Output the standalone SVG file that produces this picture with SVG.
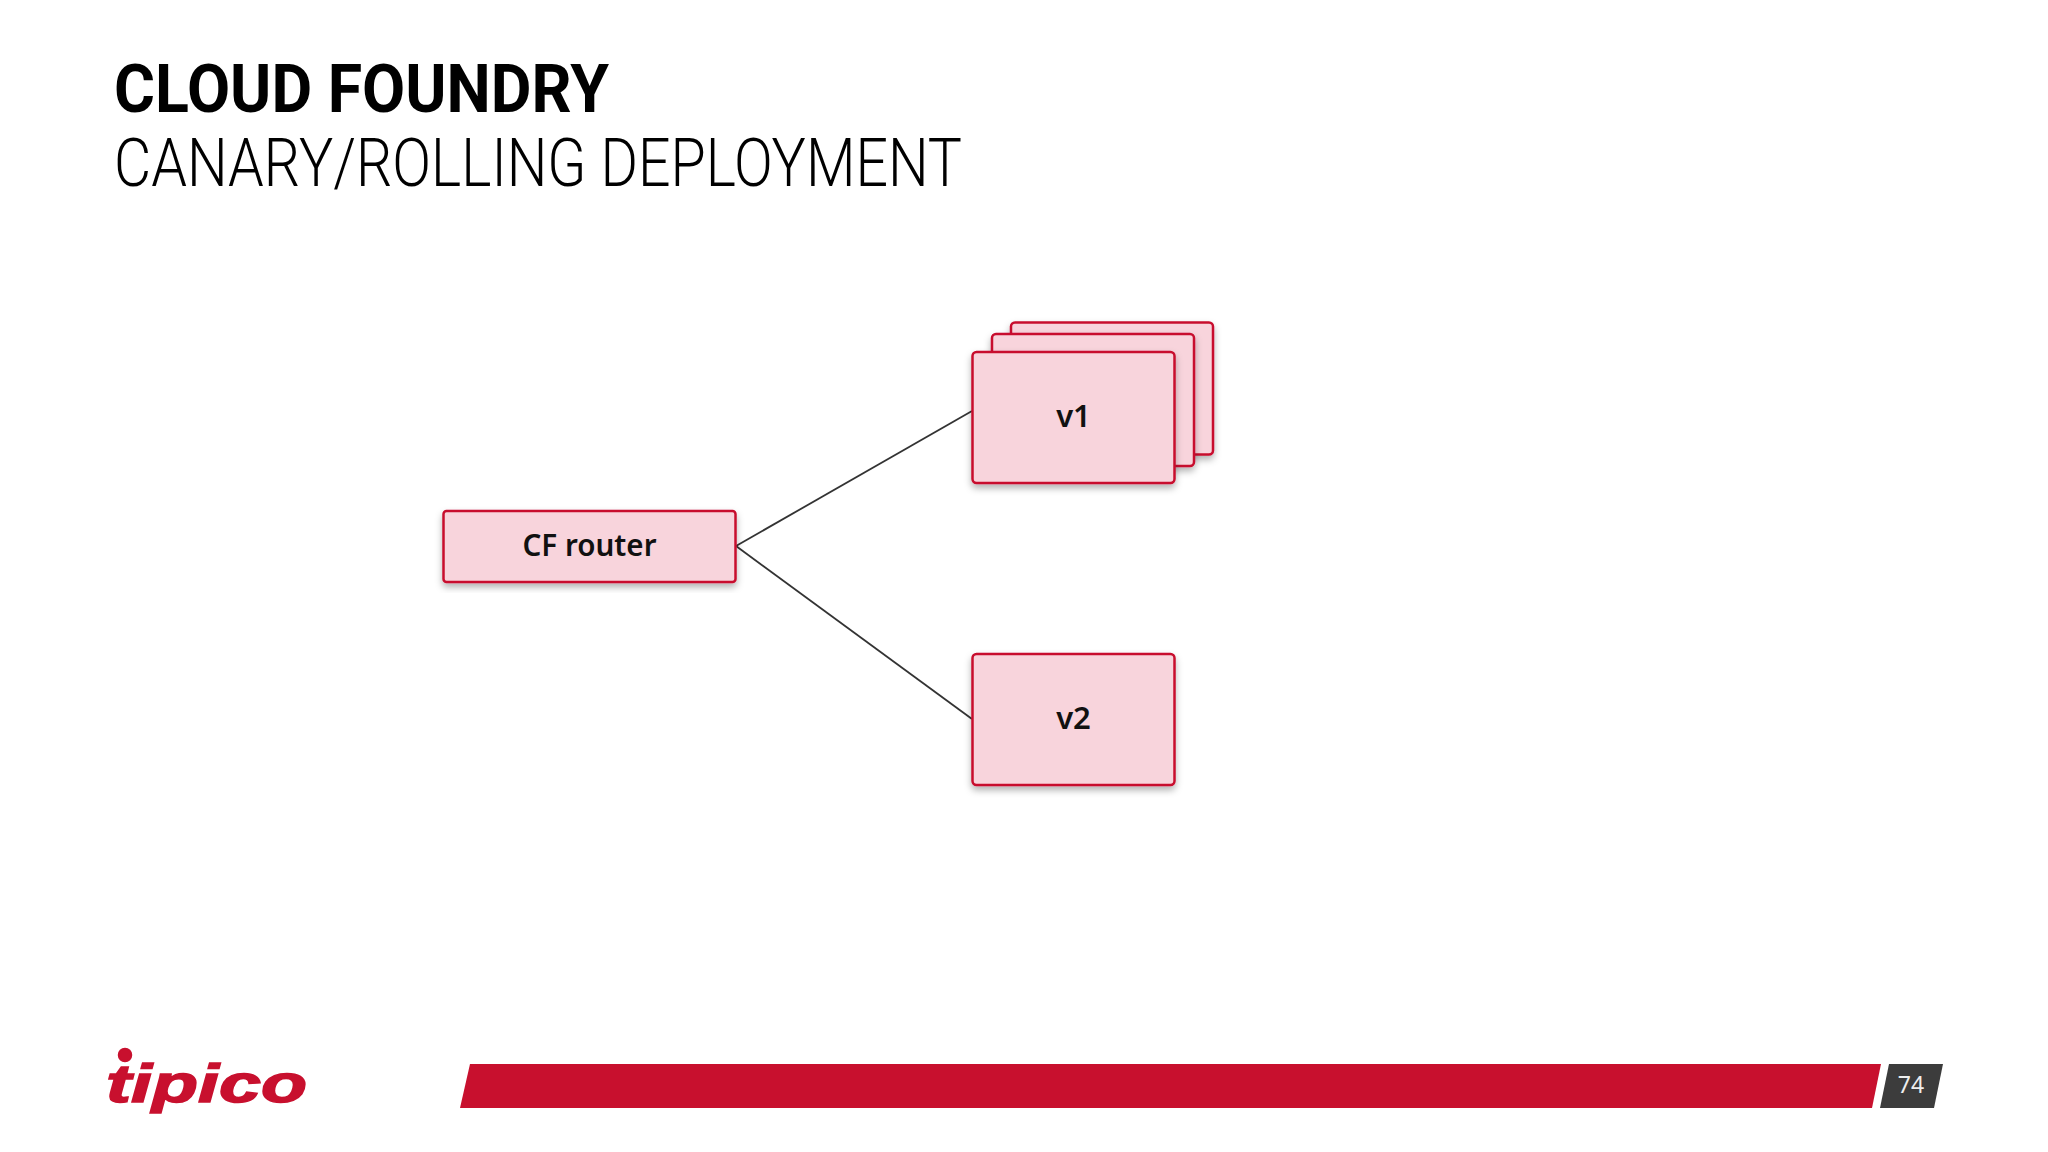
<svg xmlns="http://www.w3.org/2000/svg" width="2048" height="1152" viewBox="0 0 2048 1152">
<defs>
<filter id="sh" x="-10%" y="-10%" width="120%" height="125%"><feDropShadow dx="0" dy="4" stdDeviation="3.5" flood-color="#000" flood-opacity="0.3"/></filter>
</defs>
<style>
.box{fill:#f8d4dc;stroke:#c8102e;stroke-width:2.5;filter:url(#sh)}
.lbl{font-family:"Noto Sans",sans-serif;font-weight:600;font-size:31px;fill:#111;text-anchor:middle}
.conn{stroke:#333;stroke-width:1.8;fill:none}
</style>
<rect width="2048" height="1152" fill="#fff"/>
<text id="title" x="114" y="112" font-family="Roboto,sans-serif" font-weight="700" font-size="66" fill="#000" textLength="495" lengthAdjust="spacingAndGlyphs">CLOUD FOUNDRY</text>
<text id="subtitle" x="114" y="186" font-family="Roboto,sans-serif" font-weight="300" font-size="66" fill="#000" textLength="848" lengthAdjust="spacingAndGlyphs">CANARY/ROLLING DEPLOYMENT</text>
<g id="connectors">
<line class="conn" x1="736" y1="546" x2="972" y2="411"/>
<line class="conn" x1="736" y1="546" x2="972" y2="719"/>
</g>
<g id="router"><rect class="box" x="443.500" y="511" width="292" height="71" rx="3"/><text class="lbl" x="589.500" y="556" textLength="134" lengthAdjust="spacingAndGlyphs">CF router</text></g>
<g id="v1-back"><rect class="box" x="1011" y="322.500" width="202" height="132" rx="4"/></g>
<g id="v1-mid"><rect class="box" x="992" y="334" width="202" height="132" rx="4"/></g>
<g id="v1"><rect class="box" x="972.500" y="352" width="202" height="131" rx="4"/><text class="lbl" x="1073.500" y="427">v1</text></g>
<g id="v2"><rect class="box" x="972.500" y="654" width="202" height="131" rx="4"/><text class="lbl" x="1073.500" y="729">v2</text></g>
<g id="logo" fill="#c8102e" stroke="#c8102e" stroke-width="1.5">
<circle cx="125" cy="1055" r="6.5"/>
<text x="106" y="1102" font-family="'Liberation Sans',sans-serif" font-weight="700" font-style="italic" font-size="54" textLength="201" lengthAdjust="spacingAndGlyphs">tipico</text>
</g>
<polygon id="bar" points="470,1064 1881,1064 1872,1108 460,1108" fill="#c8102e"/>
<g id="page"><polygon points="1889,1064 1943,1064 1934,1108 1880,1108" fill="#3c3c3c"/>
<text x="1911" y="1093" font-family="'Noto Sans',sans-serif" font-size="23" fill="#eee" text-anchor="middle">74</text></g>
</svg>
